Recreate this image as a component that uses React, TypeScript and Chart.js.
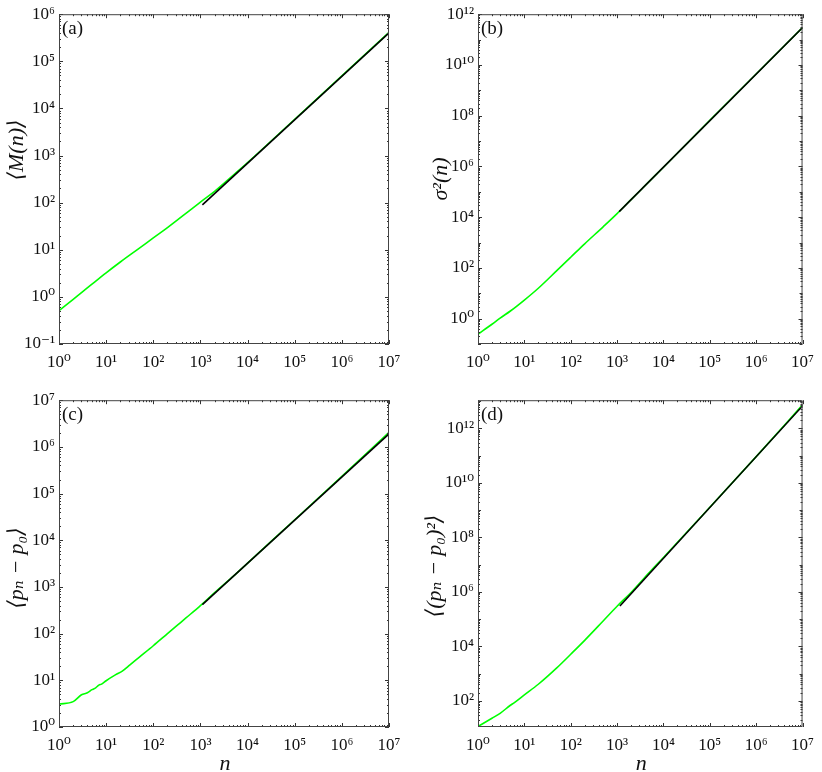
import React, { useEffect, useRef } from "react";
import { Chart, registerables } from "chart.js";
Chart.register(...registerables);

// ---------- data ----------
const X_TICKS = [1, 10, 100, 1e3, 1e4, 1e5, 1e6, 1e7];

// (a) <M(n)>
const N_A = [1, 2, 3, 5, 10, 20, 50, 100, 200, 500, 1000, 2000, 5000, 1e4, 1e5, 1e6, 1e7];
const MEAN_M = [0.51, 0.89, 1.23, 1.86, 3.24, 5.5, 10.7, 17.8, 29.5, 60, 103, 174, 385, 708, 5890, 49000, 412000];
const FIT_N_A = [1100, 1e7];
const FIT_M = [90, 4.0e5];
const Y_TICKS_A = [0.1, 1, 10, 100, 1e3, 1e4, 1e5, 1e6];

// (b) sigma^2(n)
const N_B = [1, 2, 3, 5, 10, 20, 50, 100, 200, 500, 1000, 2000, 5000, 1e4, 1e5, 1e6, 1e7];
const SIGMA2 = [0.245, 0.6, 1.05, 2.0, 5.4, 15.8, 78, 263, 890, 4170, 13800, 49000, 263000, 9.3e5, 6.5e7, 4.4e9, 3.0e11];
const FIT_N_B = [1110, 1e7];
const FIT_SIGMA2 = [16600, 2.95e11];
const Y_TICKS_B = [1, 1e2, 1e4, 1e6, 1e8, 1e10, 1e12];

// (c) <p_n - p_0>
const N_C = [1, 2, 3, 4, 5, 6, 7, 8, 10, 16, 22, 32, 50, 100, 200, 316, 500, 1000, 2000, 5000, 1e4, 1e5, 1e6, 1e7];
const MEAN_DP = [3.1, 3.5, 4.9, 5.4, 6.3, 6.9, 7.9, 8.3, 9.8, 13.2, 15.8, 21.4, 31, 55, 100, 148, 219, 398, 759, 1700, 3240, 27500, 234000, 2.04e6];
const FIT_N_C = [1100, 1e7];
const FIT_DP = [417, 1.9e6];
const Y_TICKS_C = [1, 10, 100, 1e3, 1e4, 1e5, 1e6, 1e7];

// (d) <(p_n - p_0)^2>
const N_D = [1, 2, 3, 5, 6, 10, 20, 50, 100, 200, 500, 1000, 2000, 5000, 1e4, 1e5, 1e6, 1e7];
const MEAN_DP2 = [11.5, 23, 35, 69, 85, 166, 407, 1620, 5130, 16600, 85000, 295000, 9.5e5, 5.25e6, 1.82e7, 1.26e9, 9.1e10, 7.2e12];
const FIT_N_D = [1150, 1e7];
const FIT_DP2 = [302000, 6.6e12];
const Y_TICKS_D = [1e2, 1e4, 1e6, 1e8, 1e10, 1e12];

// ---------- helpers ----------
const SUP: Record<string, string> = {
  "0": "⁰", "1": "¹", "2": "²", "3": "³", "4": "⁴", "5": "⁵", "6": "⁶", "7": "⁷", "8": "⁸", "9": "⁹", "-": "⁻",
};
const pow10Label = (v: number) => {
  const e = Math.round(Math.log10(v));
  return "10" + String(e).split("").map((c) => SUP[c]).join("");
};
const pts = (xs: number[], ys: number[]) => xs.map((x, i) => ({ x, y: ys[i] }));

const SERIF = '"Liberation Serif", "DejaVu Serif", serif';
const GREEN = "#00ff00";

type PanelDef = {
  key: string;
  cx: number; cy: number; w: number; h: number;
  area: { left: number; top: number; right: number; bottom: number };
  yMin: number; yMax: number; yTicks: number[];
  yTitle: string; yTitlePos: [number, number]; xTitle: string | null;
  label: string;
  nData: number[]; yData: number[]; fitN: number[]; fitY: number[];
};

const PANELS: PanelDef[] = [
  { key: "a", cx: 0, cy: 0, w: 411, h: 386, area: { left: 59, top: 13, right: 389, bottom: 344 },
    yMin: 0.1, yMax: 1e6, yTicks: Y_TICKS_A, yTitle: "⟨M(n)⟩", yTitlePos: [17, 150], xTitle: null, label: "(a)",
    nData: N_A, yData: MEAN_M, fitN: FIT_N_A, fitY: FIT_M },
  { key: "b", cx: 411, cy: 0, w: 411, h: 386, area: { left: 67, top: 13, right: 398, bottom: 344 },
    yMin: 0.1, yMax: 1e12, yTicks: Y_TICKS_B, yTitle: "σ²(n)", yTitlePos: [30, 179], xTitle: null, label: "(b)",
    nData: N_B, yData: SIGMA2, fitN: FIT_N_B, fitY: FIT_SIGMA2 },
  { key: "c", cx: 0, cy: 386, w: 411, h: 386, area: { left: 59, top: 11, right: 389, bottom: 341 },
    yMin: 1, yMax: 1e7, yTicks: Y_TICKS_C, yTitle: "⟨pₙ − p₀⟩", yTitlePos: [17, 182], xTitle: "n", label: "(c)",
    nData: N_C, yData: MEAN_DP, fitN: FIT_N_C, fitY: FIT_DP },
  { key: "d", cx: 411, cy: 386, w: 411, h: 386, area: { left: 67, top: 11, right: 398, bottom: 341 },
    yMin: 11, yMax: 1.07e13, yTicks: Y_TICKS_D, yTitle: "⟨(pₙ − p₀)²⟩", yTitlePos: [24, 180], xTitle: "n", label: "(d)",
    nData: N_D, yData: MEAN_DP2, fitN: FIT_N_D, fitY: FIT_DP2 },
];

const decorPlugin = {
  id: "decor",
  afterDatasetsDraw(chart: any, _args: any, opts: any) {
    const { ctx, chartArea: a, scales } = chart;
    const xs = scales.x;
    const ys = scales.y;
    ctx.save();
    ctx.strokeStyle = "#333";
    ctx.lineWidth = 1;
    // inward ticks on x (top and bottom)
    for (let k = 0; k <= 7; k++) {
      for (let m = 1; m <= 9; m++) {
        const v = m * Math.pow(10, k);
        if (v > 1e7 * 1.0001) continue;
        const px = Math.round(xs.getPixelForValue(v)) + 0.5;
        const len = m === 1 ? 4 : 2;
        ctx.beginPath();
        ctx.moveTo(px, a.bottom);
        ctx.lineTo(px, a.bottom - len);
        ctx.moveTo(px, a.top);
        ctx.lineTo(px, a.top + len);
        ctx.stroke();
      }
    }
    // inward ticks on y (left and right)
    const lo = Math.floor(Math.log10(opts.yMin));
    const hi = Math.ceil(Math.log10(opts.yMax));
    for (let k = lo; k <= hi; k++) {
      for (let m = 1; m <= 9; m++) {
        const v = m * Math.pow(10, k);
        if (v < opts.yMin * 0.9999 || v > opts.yMax * 1.0001) continue;
        const py = Math.round(ys.getPixelForValue(v)) + 0.5;
        const labeled = opts.yTicks.some((t: number) => Math.abs(Math.log10(t) - Math.log10(v)) < 1e-6);
        const len = m === 1 ? (labeled ? 4 : 3) : 2;
        ctx.beginPath();
        ctx.moveTo(a.left, py);
        ctx.lineTo(a.left + len, py);
        ctx.moveTo(a.right, py);
        ctx.lineTo(a.right - len, py);
        ctx.stroke();
      }
    }
    // frame
    ctx.strokeStyle = "#444";
    ctx.strokeRect(a.left + 0.5, a.top + 0.5, a.right - a.left - 1, a.bottom - a.top - 1);
    // panel label
    ctx.fillStyle = "#111";
    ctx.font = `19px ${SERIF}`;
    ctx.textBaseline = "alphabetic";
    ctx.textAlign = "left";
    ctx.fillText(opts.label, a.left + 3, a.top + 20);
    // y title
    ctx.save();
    ctx.translate(opts.yTitlePos[0], opts.yTitlePos[1]);
    ctx.rotate(-Math.PI / 2);
    ctx.font = `italic 22px ${SERIF}`;
    ctx.textAlign = "center";
    ctx.textBaseline = "middle";
    ctx.fillText(opts.yTitle, 0, 0);
    ctx.restore();
    // x title
    if (opts.xTitle) {
      ctx.font = `italic 22px ${SERIF}`;
      ctx.textAlign = "center";
      ctx.textBaseline = "alphabetic";
      ctx.fillText(opts.xTitle, (a.left + a.right) / 2 + 1, chart.height - 2);
    }
    ctx.restore();
  },
};

function Panel({ p }: { p: PanelDef }) {
  const ref = useRef<HTMLCanvasElement>(null);
  useEffect(() => {
    if (!ref.current) return;
    const tickFont = { family: SERIF, size: 17 };
    const chart = new Chart(ref.current, {
      type: "line",
      data: {
        datasets: [
          {
            label: "fit",
            data: pts(p.fitN, p.fitY),
            borderColor: "#000000",
            borderWidth: 1.6,
            pointRadius: 0,
            fill: false,
          },
          {
            label: "data",
            data: pts(p.nData, p.yData),
            borderColor: GREEN,
            borderWidth: 1.6,
            pointRadius: 0,
            cubicInterpolationMode: "monotone",
            fill: false,
          },
        ],
      },
      options: {
        responsive: false,
        animation: false,
        devicePixelRatio: 1,
        parsing: false,
        layout: { padding: { left: 0, top: p.area.top, right: p.w - p.area.right, bottom: 0 } },
        plugins: {
          legend: { display: false },
          tooltip: { enabled: false },
          decor: {
            label: p.label, yMin: p.yMin, yMax: p.yMax, yTicks: p.yTicks,
            yTitle: p.yTitle, yTitlePos: p.yTitlePos, xTitle: p.xTitle,
          },
        } as any,
        scales: {
          x: {
            type: "logarithmic",
            min: 1,
            max: 1e7,
            grid: { display: false, drawTicks: false },
            border: { display: false },
            afterBuildTicks: (s: any) => {
              s.ticks = X_TICKS.map((v) => ({ value: v }));
            },
            afterFit: (s: any) => {
              s.height = p.h - p.area.bottom;
            },
            ticks: {
              autoSkip: false,
              maxRotation: 0,
              padding: 8,
              color: "#111",
              font: tickFont,
              callback: (v: any) => pow10Label(Number(v)),
            },
          },
          y: {
            type: "logarithmic",
            min: p.yMin,
            max: p.yMax,
            grid: { display: false, drawTicks: false },
            border: { display: false },
            afterBuildTicks: (s: any) => {
              s.ticks = p.yTicks.map((v) => ({ value: v }));
            },
            afterFit: (s: any) => {
              s.width = p.area.left;
            },
            ticks: {
              autoSkip: false,
              padding: 4,
              color: "#111",
              font: tickFont,
              callback: (v: any) => pow10Label(Number(v)),
            },
          },
        },
      } as any,
      plugins: [decorPlugin],
    });
    return () => chart.destroy();
  }, [p]);
  return (
    <canvas
      ref={ref}
      width={p.w}
      height={p.h}
      style={{ position: "absolute", left: p.cx, top: p.cy, width: p.w, height: p.h }}
    />
  );
}

export default function App() {
  return (
    <div style={{ position: "absolute", left: 0, top: 0, width: 822, height: 772, background: "#fff" }}>
      {PANELS.map((p) => (
        <Panel key={p.key} p={p} />
      ))}
    </div>
  );
}
